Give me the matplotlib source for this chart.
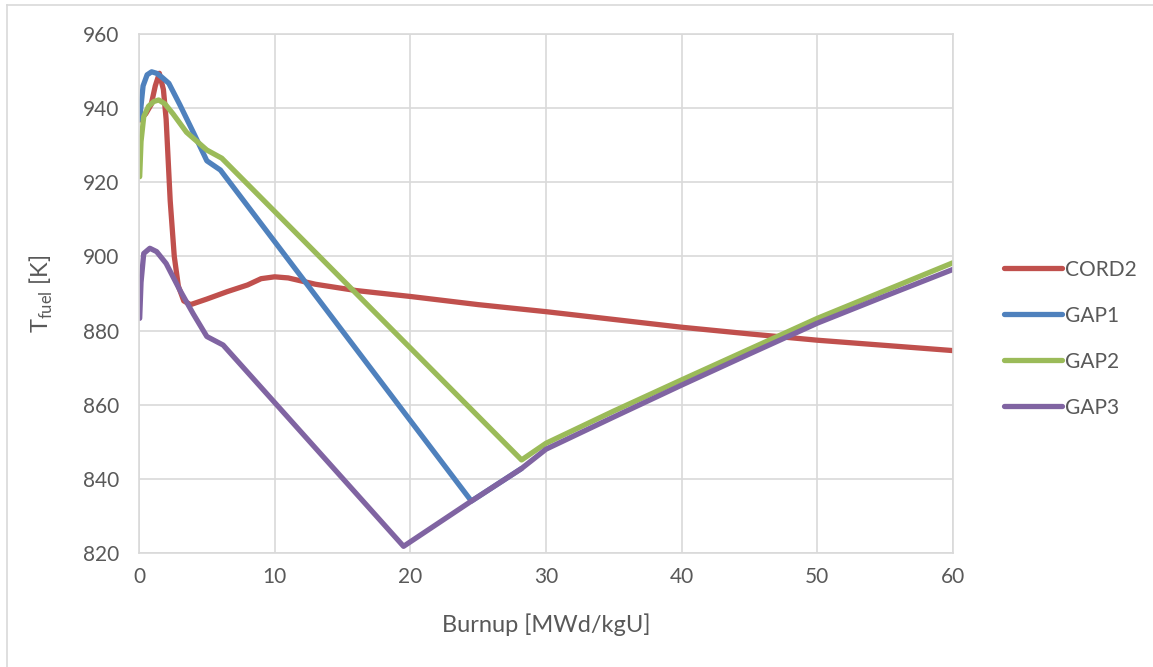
import matplotlib.pyplot as plt
from matplotlib.lines import Line2D

plt.rcParams['font.family'] = ['Lato', 'DejaVu Sans']

# CORD2
cord2_x = [0.05, 0.5, 0.9, 1.2, 1.5, 1.8, 2.0, 2.3, 2.6, 2.9, 3.3, 3.8, 5, 6.5, 8, 9, 10, 11,
           13, 16, 20, 25, 30, 35, 40, 45, 50, 55, 60]
cord2_y = [936.8, 938.5, 941, 946, 949.4, 945, 937, 915, 900, 892, 888, 887, 888.5, 890.5,
           892.3, 894, 894.5, 894.2, 892.5, 890.8, 889.2, 887, 885.1, 883, 880.9, 879.1,
           877.4, 876, 874.6]

# GAP1
gap1_x = [0.05, 0.3, 0.6, 0.93, 1.3, 1.7, 2.2, 3, 4, 5, 6, 24.5, 28.2]
gap1_y = [937, 946, 949, 949.8, 949.4, 948.3, 946.7, 941, 933.5, 925.8, 923.3, 834, 842.8]

# GAP2
gap2_x = [0.05, 0.15, 0.35, 0.7, 1.1, 1.45, 1.9, 2.5, 3.5, 5.0, 6.1, 28.2, 30, 35, 40, 45,
          50, 55, 60]
gap2_y = [921.5, 931, 937.7, 940.5, 941.8, 942.2, 941.2, 938.5, 933.5, 928.7, 926.5, 845.1,
          849.6, 858.3, 866.7, 875, 883.3, 890.8, 898.3]

# GAP3
gap3_x = [0.05, 0.15, 0.35, 0.8, 1.3, 2.0, 3.0, 4.0, 5.0, 6.2, 19.5, 24.5, 28.2, 30, 35, 40,
          45, 50, 55, 60]
gap3_y = [883.3, 893, 900.8, 902.2, 901.3, 898.1, 891, 884.5, 878.4, 876.1, 821.8, 834,
          842.8, 848.0, 856.7, 865.3, 873.7, 882, 889.3, 896.5]

fig = plt.figure(figsize=(11.53, 6.67), dpi=100)
ax = fig.add_axes([139 / 1153, 1 - 553 / 667, (953 - 139) / 1153, (553 - 34) / 667])

lw = 3.8
style = dict(lw=lw, solid_joinstyle='round', solid_capstyle='round')
ax.plot(cord2_x, cord2_y, color='#C0504D', label='CORD2', **style)
ax.plot(gap1_x, gap1_y, color='#4F81BD', label='GAP1', **style)
ax.plot(gap2_x, gap2_y, color='#9BBB59', label='GAP2', **style)
ax.plot(gap3_x, gap3_y, color='#8064A2', label='GAP3', **style)

ax.set_xlim(0, 60)
ax.set_ylim(820, 960)
ax.set_xticks(range(0, 61, 10))
ax.set_yticks(range(820, 961, 20))
ax.grid(True, color='#D9D9D9', lw=1.2)
ax.set_axisbelow(True)
for s in ax.spines.values():
    s.set_color('#D9D9D9')
    s.set_linewidth(1.2)
ax.tick_params(length=0, labelsize=15, colors='#595959')
ax.tick_params(axis='x', pad=10)
ax.tick_params(axis='y', pad=14)

ax.set_xlabel('Burnup [MWd/kgU]', fontsize=17, color='#595959', labelpad=19)
ax.set_ylabel(r'T$_{\mathregular{fuel}}$ [K]', fontsize=17, color='#595959', labelpad=20)

leg = ax.legend(loc='center left', bbox_to_anchor=(1.040, 0.413), frameon=False, fontsize=15,
                handlelength=2.75, labelspacing=1.25, handletextpad=0.15, labelcolor='#595959')

# outer border (top and left edges visible)
fig.add_artist(Line2D([7 / 1153, 1.0], [1 - 5 / 667, 1 - 5 / 667], color='#D9D9D9', lw=1.2))
fig.add_artist(Line2D([7 / 1153, 7 / 1153], [0, 1 - 5 / 667], color='#D9D9D9', lw=1.2))

fig.savefig('out.png', dpi=100)
